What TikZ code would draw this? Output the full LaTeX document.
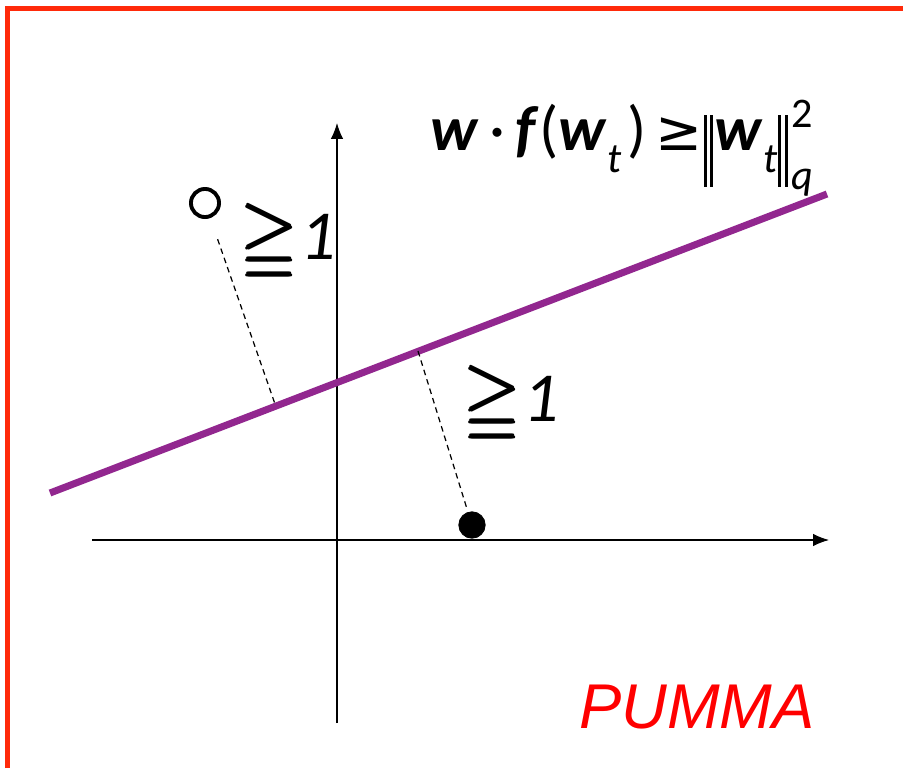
\documentclass[tikz,border=0pt]{standalone}
\usepackage{fontspec}
\usepackage{amssymb}
\usepackage{amsbsy}
\usepackage{graphicx}
\setmainfont{Carlito}
\newfontfamily\arialfont{Liberation Sans}
\newfontfamily\symfont{DejaVu Sans}
\usetikzlibrary{arrows.meta, positioning, calc}
\definecolor{pBorder}{HTML}{FF2A0A}
\definecolor{pPurple}{RGB}{146,39,143}
\definecolor{pRed}{HTML}{FF0000}

% bold italic vector, small subscript, norm bars
\newcommand{\bw}{\textbf{\textit{w}}}
\newcommand{\lowt}{\raisebox{-0.36em}{\fontsize{24}{24}\selectfont\textit{t}}}
\newcommand{\dbar}{\rule[-21pt]{1.5pt}{41pt}\kern2.2pt\rule[-21pt]{1.5pt}{41pt}}
\newcommand{\geone}{\raisebox{-0.05em}{\scalebox{1.05}[1.1]{$\pmb{\geqq}$}}\kern0.02em\textit{1}}

\begin{document}
\begin{tikzpicture}[
  x=0.02cm, y=-0.02cm,
  axis/.style={draw=black, line width=0.6pt, -{Latex[length=9pt,width=7pt]}},
  sep/.style={draw=pPurple, line width=4pt},
  gap/.style={draw=black, line width=0.7pt, dash pattern=on 3.2pt off 2.4pt},
  dot/.style={circle, inner sep=0pt, line width=2.2pt, draw=black},
  marg/.style={font=\fontsize{40}{40}\selectfont, inner sep=0pt}
]
\useasboundingbox (0,0) rectangle (903,768);

% frame
\draw[draw=pBorder, line width=3pt] (7.5,768) -- (7.5,8.5) -- (903,8.5);

% axes
\coordinate (xs) at (92,540);
\coordinate (xe) at (829,540);
\coordinate (ys) at (337,723);
\coordinate (ye) at (337,123);
\draw[axis] (xs) -- (xe);
\draw[axis] (ys) -- (ye);

% separating line
\coordinate (ls) at (50,493);
\coordinate (le) at (827,194);
\draw[sep] (ls) -- (le);

% points
\node[dot, fill=white, minimum size=16pt] (neg) at (205,203) {};
\node[dot, fill=black, minimum size=15pt, line width=0.5pt] (pos) at (472,525) {};

% margins
\coordinate (fneg) at (275,404);
\coordinate (fpos) at (418,351);
\draw[gap] ($(neg)!0.18!(fneg)$) -- (fneg);
\draw[gap] (fpos) -- ($(fpos)!0.9!(pos)$);

\node[marg] (mneg) at (289,243) {\geone};
\node[marg] (mpos) at (512,405) {\geone};

% constraint
\node[anchor=base west, inner sep=0pt, font=\fontsize{36}{36}\selectfont] (rule) at (430,150)
  {\bw\,·\,\textbf{\textit{f}}(\bw\lowt\kern0.1em)\kern0.14em{\symfont\fontsize{32}{32}\selectfont ≥}\kern0.02em\dbar\kern1pt\bw\lowt\kern0.5pt\dbar\kern2pt%
   \rlap{\raisebox{0.36em}{\fontsize{24}{24}\selectfont 2}}%
   \raisebox{-0.62em}{\fontsize{24}{24}\selectfont\textit{q}}};

% label
\node[anchor=south east, inner sep=0pt, text=pRed,
      font=\arialfont\itshape\fontsize{36}{36}\selectfont] (name) at (815,729) {PUMMA};
\end{tikzpicture}
\end{document}
